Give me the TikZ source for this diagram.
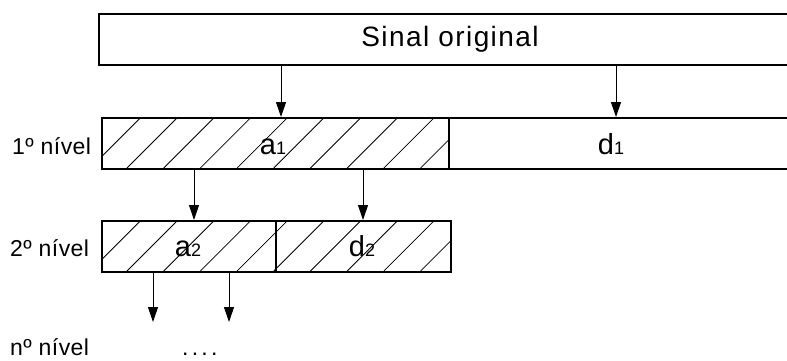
\documentclass[tikz,border=0pt]{standalone}
\usepackage{fontspec}
\setmainfont{Liberation Sans}
\usetikzlibrary{arrows.meta}
\begin{document}
\begin{tikzpicture}[x=1pt,y=-1pt,
  blk/.style={draw=black, line width=2pt, rectangle, inner sep=0pt, anchor=north west},
  conn/.style={line width=1pt, -{Triangle[length=15pt,width=10pt]}},
  hatchline/.style={line width=0.8pt},
  big/.style={font=\addfontfeature{LetterSpace=5}\fontsize{28}{28}\selectfont},
  lvl/.style={font=\addfontfeature{LetterSpace=2}\fontsize{23}{23}\selectfont, anchor=base west, inner sep=0pt},
  sym/.style={font=\fontsize{29}{29}\selectfont, inner sep=0pt, anchor=base},
]
\clip (0,0) rectangle (787,360);

% hatching of the approximation bands
\begin{scope}
  \clip (101,117) rectangle (448,168);
  \foreach \k in {-2,...,10} \draw[hatchline] ({127+36.7*\k},168) -- ++(51,-51);
\end{scope}
\begin{scope}
  \clip (101,220) rectangle (450,271);
  \foreach \k in {-2,...,10} \draw[hatchline] ({127+36.7*\k},271) -- ++(51,-51);
\end{scope}

% blocks
\node[blk, minimum width=702pt, minimum height=51pt, big] (orig) at (98,13) {Sinal original};
\node[blk, minimum width=347pt, minimum height=51pt] (a1) at (101,117) {};
\node[blk, minimum width=352pt, minimum height=51pt] (d1) at (448,117) {};
\node[blk, minimum width=174pt, minimum height=51pt] (a2) at (101,220) {};
\node[blk, minimum width=175pt, minimum height=51pt] (d2) at (275,220) {};

% coefficient labels
\newcommand{\sbs}[1]{{\fontsize{18}{18}\selectfont\raisebox{-0.5pt}{#1}}}
\node[sym] (ta1) at (273,154) {a\sbs{1}};
\node[sym] (td1) at (611,154) {d\sbs{1}};
\node[sym] (ta2) at (188,256) {a\sbs{2}};
\node[sym] (td2) at (362,256) {d\sbs{2}};

% level labels
\node[lvl] (l1) at (12,154) {1º nível};
\node[lvl] (l2) at (10,256) {2º nível};
\node[lvl] (ln) at (10,355) {nº nível};
\node[lvl, font=\addfontfeature{LetterSpace=14}\fontsize{23}{23}\selectfont] (dots) at (182,355) {....};

% decomposition arrows
\coordinate (x1) at (281,0);
\coordinate (x2) at (616,0);
\coordinate (x3) at (194,0);
\coordinate (x4) at (363,0);
\draw[conn] (x1 |- orig.south) -- (x1 |- a1.north);
\draw[conn] (x2 |- orig.south) -- (x2 |- d1.north);
\draw[conn] (x3 |- a1.south) -- (x3 |- a2.north);
\draw[conn] (x4 |- a1.south) -- (x4 |- d2.north);
\coordinate (e1) at (153,322);
\coordinate (e2) at (229,322);
\draw[conn] (e1 |- a2.south) -- (e1);
\draw[conn] (e2 |- a2.south) -- (e2);
\end{tikzpicture}
\end{document}
